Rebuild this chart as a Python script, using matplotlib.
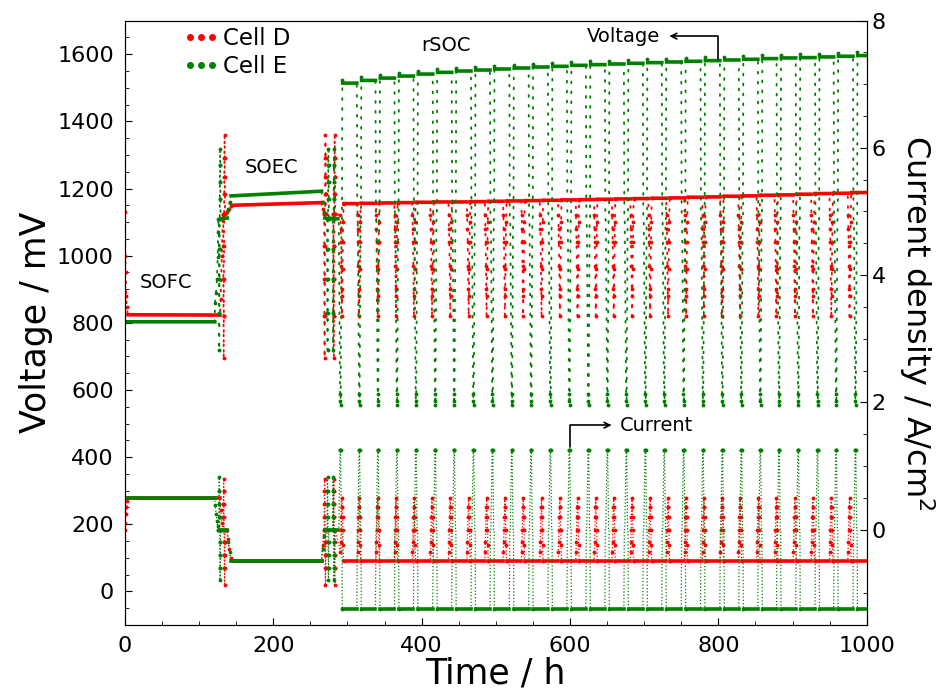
import matplotlib.pyplot as plt
from matplotlib.lines import Line2D
from matplotlib.ticker import MultipleLocator

# ---- start-up phases (SOFC -> OCV -> SOEC -> OCV), time h / voltage mV / current A/cm2
d_pre_t = [0.0, 0.4, 0.9, 1.6, 2.4, 4.0, 128.0, 129.0, 130.5, 132.0, 135.5, 137.5,
           139.0, 140.5, 142.5, 144.0, 265.0, 266.5, 268.0, 271.5, 280.0, 283.5]
d_pre_v = [1130, 1000, 950, 880, 848, 824, 823, 870, 1000, 1120, 1125, 1130,
           1135, 1140, 1148, 1150, 1158, 1140, 1125, 1125, 1125, 1125]
d_pre_j = [0.0, 0.1, 0.25, 0.35, 0.45, 0.5, 0.5, 0.3, 0.1, 0.0, 0.0, 0.0,
           -0.15, -0.3, -0.45, -0.5, -0.5, -0.25, 0.0, 0.0, 0.0, 0.0]
d_pre_flat = [4.0, 144.0]

e_pre_t = [0.0, 121.0, 121.5, 122.8, 124.0, 125.0, 125.5, 126.0, 129.5, 138.0,
           139.5, 141.0, 143.0, 265.0, 266.5, 268.0, 269.5, 275.5, 283.0, 287.0]
e_pre_v = [803, 803, 860, 890, 930, 995, 1070, 1108, 1110, 1112,
           1140, 1160, 1178, 1192, 1160, 1130, 1112, 1112, 1110, 1110]
e_pre_j = [0.5, 0.5, 0.38, 0.25, 0.14, 0.05, 0.0, 0.0, 0.0, 0.0,
           -0.2, -0.35, -0.5, -0.5, -0.3, -0.1, 0.0, 0.0, 0.0, 0.0]
e_pre_flat = [0.0, 129.5, 143.0, 269.5, 275.5, 283.0]

# ---- i-V sweeps recorded during the start-up
iv_dt = [0.0, 0.15, 0.3, 0.45, 0.6, 0.75, 0.9, 1.05, 1.2, 1.35, 1.5, 1.65, 1.8, 1.95, 2.1, 2.25, 2.4]
d_iv_j = [0, 0.2, 0.4, 0.6, 0.8, 0.6, 0.4, 0.2, 0, -0.2, -0.4, -0.6, -0.88, -0.6, -0.4, -0.2, 0]
d_iv_v = [1125, 1030, 930, 820, 695, 820, 930, 1030, 1125, 1185, 1235, 1290, 1360, 1290, 1235, 1185, 1125]
e_iv_j = [0, 0.2, 0.4, 0.6, 0.82, 0.6, 0.4, 0.2, 0, -0.2, -0.4, -0.6, -0.8, -0.6, -0.4, -0.2, 0]
e_iv_v = [1110, 1020, 930, 830, 720, 830, 930, 1020, 1110, 1170, 1220, 1270, 1318, 1270, 1220, 1170, 1110]
d_iv_start = [132.5, 268.5, 281.0]
e_iv_start = [126.5, 272.5, 280.0]

# ---- rSOC cycling: time of each SOFC switch and the following SOEC voltage level
d_switch = [292.5, 315.6, 340.7, 365.4, 389.6, 413.9, 438.5, 463.3, 487.5, 512.2,
            536.8, 561.6, 586.3, 610.1, 634.7, 658.9, 683.6, 707.9, 732.1, 756.4,
            780.6, 804.8, 829.1, 853.9, 878.1, 903.2, 927.4, 952.2, 976.8]
d_soec = [1155, 1156, 1157, 1158, 1159, 1160, 1160, 1161, 1162, 1163,
          1164, 1165, 1166, 1167, 1168, 1169, 1170, 1171, 1172, 1174,
          1175, 1177, 1178, 1180, 1181, 1183, 1185, 1186, 1188]
e_switch = [290.0, 315.6, 340.7, 366.3, 391.9, 417.9, 443.5, 469.5, 495.1, 521.2,
            547.2, 573.2, 598.8, 624.4, 650.0, 675.6, 701.2, 726.7, 752.9, 778.9,
            805.0, 830.6, 856.2, 881.4, 907.3, 933.3, 958.4, 984.5]
e_soec = [1514, 1522, 1529, 1535, 1541, 1546, 1550, 1553, 1556, 1559,
          1562, 1564, 1567, 1569, 1571, 1573, 1575, 1577, 1579, 1581,
          1583, 1585, 1587, 1589, 1590, 1592, 1594, 1596]

# points recorded around each switch (offset h from the switch), 1 = drawn with a dot
d_sw_dt = [-2.0, -1.6, -1.2, -0.8, -0.4, 0.0, 0.4, 0.8, 1.2, 1.6]
d_sw_v = [1120, 1080, 1040, 970, 900, 820, 880, 960, 1040, 1100]
d_sw_j = [-0.35, -0.2, 0.0, 0.2, 0.35, 0.5, 0.35, 0.2, 0.0, -0.25]
d_sw_dot = [1, 1, 1, 1, 1, 1, 1, 1, 1, 1]
e_sw_dt = [-2.4, -1.8, -1.0, 0.0, 0.35, 0.7, 1.4, 2.0, 2.6]
e_sw_v = [1110, 1105, 860, 588, 566, 556, 860, 1105, 1110]
e_sw_j = [0.0, 0.0, 0.6, 1.25, 1.25, 1.25, 0.6, 0.0, 0.0]
e_sw_dot = [0, 0, 0, 1, 1, 1, 0, 0, 0]


def build(pre_t, pre_v, pre_j, pre_flat, iv_start, iv_v, iv_j,
          switch, soec, sw_dt, sw_v, sw_j, sw_dot, j_soec, p_on, p_off, hook):
    # rows: time, voltage, current, starts a flat segment, drawn with a dot
    rows = [(t, v, j, t in pre_flat, True) for t, v, j in zip(pre_t, pre_v, pre_j)]
    for t0 in iv_start:
        rows += [(t0 + dt, v, j, False, True) for dt, v, j in zip(iv_dt, iv_v, iv_j)]
    for k, ts in enumerate(switch):
        rows += [(ts + dt, v, j, False, bool(m))
                 for dt, v, j, m in zip(sw_dt, sw_v, sw_j, sw_dot)]
        t_off = switch[k + 1] - p_off if k + 1 < len(switch) else 1001
        rows += [(ts + p_on, soec[k] + hook, j_soec, False, True),
                 (ts + p_on + 0.5, soec[k], j_soec, True, False),
                 (t_off, soec[k], j_soec, False, False)]
    rows.sort()
    t = [r[0] for r in rows]
    v = [r[1] for r in rows]
    j = [r[2] for r in rows]
    ft, fv, fj, mt, mv, mj = [], [], [], [], [], []
    for i, r in enumerate(rows):
        if r[3] and i + 1 < len(rows):
            ft += [r[0], rows[i + 1][0], float('nan')]
            fv += [r[1], rows[i + 1][1], float('nan')]
            fj += [r[2], rows[i + 1][2], float('nan')]
        elif r[4] and not (i > 0 and rows[i - 1][3]):
            mt.append(r[0]); mv.append(r[1]); mj.append(r[2])
    return t, v, j, ft, fv, fj, mt, mv, mj


cell_d = build(d_pre_t, d_pre_v, d_pre_j, d_pre_flat, d_iv_start, d_iv_v, d_iv_j,
               d_switch, d_soec, d_sw_dt, d_sw_v, d_sw_j, d_sw_dot, -0.5, 2.2, 2.4, 0)
cell_e = build(e_pre_t, e_pre_v, e_pre_j, e_pre_flat, e_iv_start, e_iv_v, e_iv_j,
               e_switch, e_soec, e_sw_dt, e_sw_v, e_sw_j, e_sw_dot, -1.25, 3.0, 3.0, 10)

fig = plt.figure(figsize=(9.36, 6.89), dpi=100)
ax = fig.add_axes([0.1335, 0.093, 0.7925, 0.877])
ax2 = ax.twinx()

for cell, col in [(cell_d, 'red'), (cell_e, 'green')]:
    t, v, j, ft, fv, fj, mt, mv, mj = cell
    ax.plot(t, v, color=col, lw=1.3, ls=(0, (1, 4.5)), dash_capstyle='round')
    ax.plot(ft, fv, color=col, lw=2.6)
    ax.plot(mt, mv, '.', color=col, ms=3.5)
    ax2.plot(t, j, color=col, lw=0.9, ls=':')
    ax2.plot(ft, fj, color=col, lw=2.6)
    ax2.plot(mt, mj, '.', color=col, ms=3.5)

ax.set_xlim(0, 1000)
ax.set_ylim(-100, 1700)
ax2.set_ylim(-1.5, 8)
ax.xaxis.set_major_locator(MultipleLocator(200))
ax.xaxis.set_minor_locator(MultipleLocator(50))
ax.yaxis.set_major_locator(MultipleLocator(200))
ax.yaxis.set_minor_locator(MultipleLocator(50))
ax2.yaxis.set_major_locator(MultipleLocator(2))
ax2.yaxis.set_minor_locator(MultipleLocator(0.5))
ax.tick_params(which='both', direction='in', labelsize=16, top=False, right=False, pad=8)
ax.tick_params(which='major', length=5)
ax.tick_params(which='minor', length=3)
ax2.tick_params(which='both', direction='in', labelsize=16)
ax2.tick_params(which='major', length=5)
ax2.tick_params(which='minor', length=3)

ax.set_xlabel('Time / h', fontsize=25, labelpad=0)
ax.set_ylabel('Voltage / mV', fontsize=25, labelpad=3)
ax2.set_ylabel('Current density / A/cm$^2$', fontsize=23, rotation=270,
               va='bottom', labelpad=8)

ax.text(55.6, 920, 'SOFC', fontsize=14, ha='center', va='center')
ax.text(197, 1264, 'SOEC', fontsize=14, ha='center', va='center')
ax.text(433, 1627, 'rSOC', fontsize=14, ha='center', va='center')
ax.text(672.5, 1654, 'Voltage', fontsize=14, ha='center', va='center')
ax.annotate('', xy=(734, 1654), xytext=(800, 1585),
            arrowprops=dict(arrowstyle='->', lw=1.2, shrinkA=0, shrinkB=0,
                            connectionstyle='angle,angleA=90,angleB=0,rad=0'))
ax2.text(667, 1.64, 'Current', fontsize=14, ha='left', va='center')
ax2.annotate('', xy=(656, 1.64), xytext=(600, 1.3),
             arrowprops=dict(arrowstyle='->', lw=1.2, shrinkA=0, shrinkB=0,
                             connectionstyle='angle,angleA=90,angleB=0,rad=0'))

handles = [Line2D([], [], color='red', marker='o', ms=4, ls='none'),
           Line2D([], [], color='green', marker='o', ms=4, ls='none')]
ax.legend(handles, ['Cell D', 'Cell E'], numpoints=3, frameon=False, fontsize=16.5,
          loc='upper left', bbox_to_anchor=(0.05, 1.023), handlelength=1.6,
          handletextpad=0.15, labelspacing=0.18)

fig.savefig('out.png', dpi=100)
